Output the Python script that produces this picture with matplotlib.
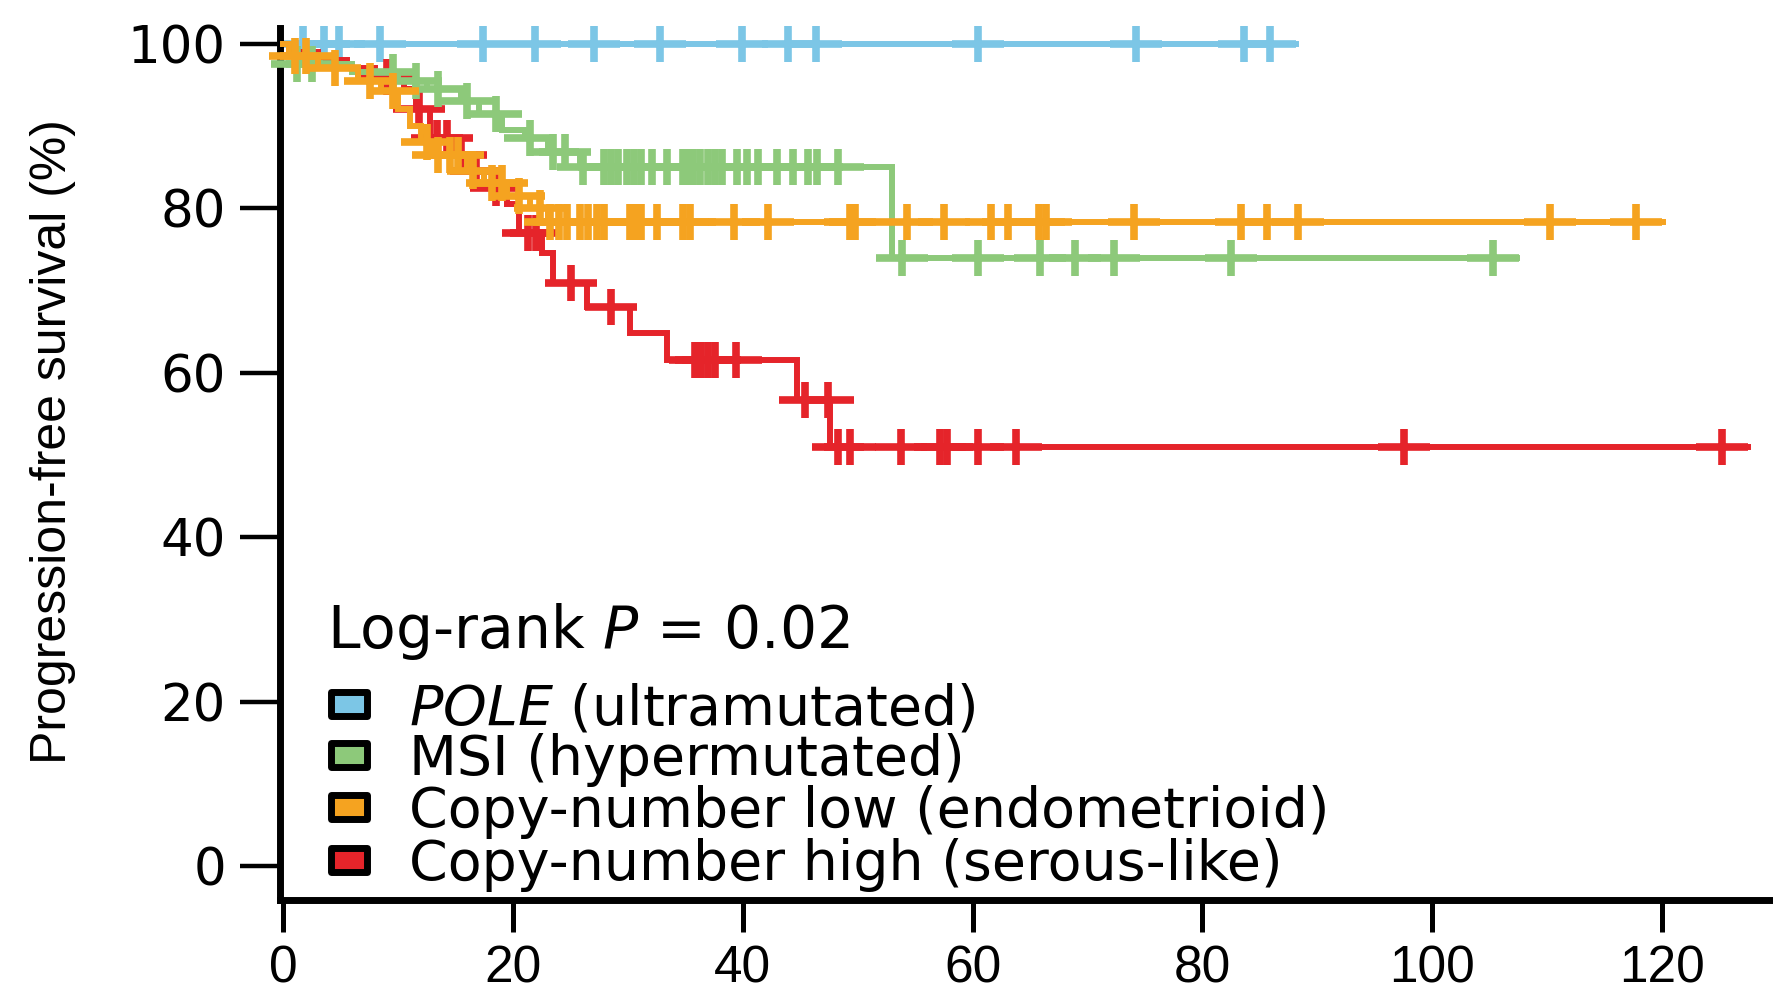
import numpy as np
import matplotlib
matplotlib.use("Agg")
import matplotlib.pyplot as plt
from matplotlib.path import Path
from matplotlib.patches import Rectangle

plt.rcParams['font.family'] = ['DejaVu Sans']
plt.rcParams['mathtext.fontset'] = 'dejavusans'

# Kaplan-Meier step curves (time in months, survival %) and censoring times
pole_t = [0, 88.2]
pole_s = [100, 100]
pole_cens = [1.7, 3.5, 4.8, 8.4, 17.4, 21.9, 27.0, 32.8, 39.9, 43.9, 46.4,
             60.5, 74.2, 83.6, 85.9]

msi_t = [0, 1.0, 6.0, 10.0, 12.5, 15.5, 17.0, 19.0, 21.0, 23.0, 25.8, 53.0, 107.4]
msi_s = [100, 97.5, 96.5, 95.5, 94.5, 93.0, 91.5, 89.5, 88.5, 86.8, 85.0, 74.0, 74.0]
msi_cens = [1.2, 2.5, 9.5, 11.5, 13.5, 16.0, 18.5, 21.5, 23.5, 24.5,
            26.1, 27.9, 28.5, 29.1, 29.9, 30.5, 31.1, 32.1, 33.4, 34.8, 35.3,
            35.7, 36.3, 37.0, 37.6, 38.2, 39.5, 40.4, 41.3, 43.0, 44.4, 45.7,
            46.5, 48.3, 53.9, 60.5, 65.9, 68.9, 72.3, 82.5, 105.3]

cnl_t = [0, 0.5, 3.0, 6.5, 8.5, 10.0, 11.0, 12.0, 13.0, 16.0, 17.5, 19.5, 21.5,
         23.0, 120.1]
cnl_s = [100, 98.5, 97.0, 95.5, 94.3, 92.0, 90.0, 88.0, 86.5, 84.5, 83.0, 81.5,
         80.0, 78.3, 78.3]
cnl_cens = [1.0, 2.0, 4.5, 7.5, 9.5, 12.5, 13.5, 14.5, 15.2, 16.5, 18.2, 19.0,
            20.5, 22.3, 23.2, 24.0, 24.7, 25.8, 26.5, 27.3, 27.9, 30.2, 30.7,
            31.1, 32.5, 34.8, 35.4, 39.2, 42.2, 49.3, 49.8, 54.3, 57.5, 61.6,
            63.1, 65.8, 66.4, 74.1, 83.4, 85.6, 88.3, 110.3, 117.8]

cnh_t = [0, 0.5, 3.0, 5.5, 8.0, 10.5, 11.5, 12.8, 15.0, 16.0, 17.5, 19.5, 20.5,
         22.5, 23.5, 26.4, 30.2, 33.4, 44.7, 47.6, 127.5]
cnh_s = [100, 99.0, 98.0, 97.0, 96.0, 94.5, 92.0, 88.5, 86.5, 84.5, 82.5, 80.5,
         77.0, 74.5, 70.9, 68.0, 64.8, 61.5, 56.7, 51.0, 51.0]
cnh_cens = [9.0, 11.8, 13.4, 14.2, 15.5, 16.8, 18.5, 21.3, 22.0, 25.0, 28.5,
            35.8, 36.4, 37.0, 37.6, 39.4, 45.4, 47.4, 48.3, 49.3, 53.8, 57.2,
            57.8, 60.5, 63.8, 97.6, 125.3]

labels = [r'$\mathit{POLE}$ (ultramutated)', 'MSI (hypermutated)',
          'Copy-number low (endometrioid)', 'Copy-number high (serous-like)']
colors = ['#7cc6e6', '#8dc97a', '#f5a320', '#e5242a']
p_text = r'Log-rank $P$ = 0.02'

groups = [(pole_t, pole_s, pole_cens, colors[0], 2),
          (cnh_t, cnh_s, cnh_cens, colors[3], 3),
          (msi_t, msi_s, msi_cens, colors[1], 4),
          (cnl_t, cnl_s, cnl_cens, colors[2], 5)]

# censor mark: a plus sign, wider than tall
plus = Path([(-1.45, 0), (1.45, 0), (0, -1), (0, 1)],
            [Path.MOVETO, Path.LINETO, Path.MOVETO, Path.LINETO])

fig = plt.figure(figsize=(17.73, 9.94), dpi=100)
ax = fig.add_axes([280 / 1773, 1 - 900 / 994, 1 - 280 / 1773, 872 / 994])

for t, s, cens, col, z in groups:
    t = np.array(t)
    s = np.array(s)
    ax.step(t, s, where='post', color=col, lw=4.3, zorder=z, clip_on=False,
            solid_joinstyle='miter')
    c = np.array(cens)
    idx = np.searchsorted(t, c, side='right') - 1
    ax.plot(c, s[idx], ls='none', marker=plus, ms=37, mew=5.5, mec=col,
            mfc='none', zorder=z, clip_on=False)

ax.set_xlim(-0.3, 129.7)
ax.set_ylim(-4.1, 101.9)
ax.set_xticks(np.arange(0, 121, 20))
ax.set_yticks(np.arange(0, 101, 20))
for side in ['top', 'right']:
    ax.spines[side].set_visible(False)
for side in ['left', 'bottom']:
    ax.spines[side].set_linewidth(5)
ax.tick_params(axis='y', length=29, width=3.2, pad=10, labelsize=37)
ax.tick_params(axis='x', length=23, width=3.6, pad=9, labelsize=37)
for lab in ax.get_xticklabels():
    lab.set_fontfamily('Liberation Sans')

fig.text(53 / 1773, 1 - 442 / 994, 'Progression-free survival (%)',
         rotation=90, ha='center', va='center', fontsize=36,
         family='Liberation Sans')

# legend block drawn inside the axes
ax.text(3.75, 26.5, p_text, fontsize=42, va='baseline', ha='left')
row_y = [19.7, 13.5, 7.2, 0.8]
for lab, col, y in zip(labels, colors, row_y):
    ax.add_patch(Rectangle((5.74 - 1.56, y - 1.45), 3.12, 2.9, facecolor=col,
                           edgecolor='black', lw=5, joinstyle='round',
                           zorder=6))
    ax.text(10.97, y - 2.45, lab, fontsize=40, va='baseline', ha='left')

fig.savefig('out.png', dpi=100)
